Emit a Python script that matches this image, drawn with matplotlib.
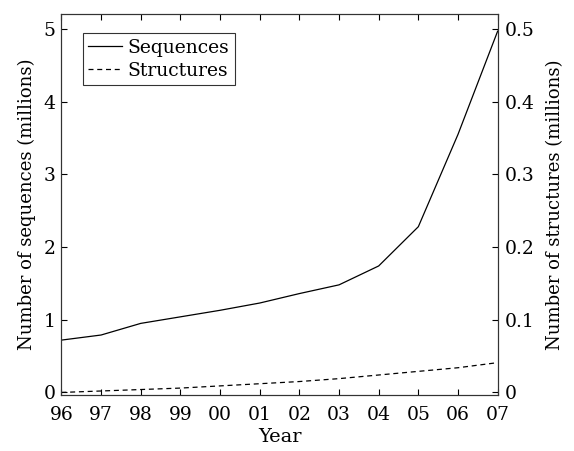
import numpy as np
import matplotlib.pyplot as plt

plt.rcParams['font.family'] = ['DejaVu Serif']

years = [96, 97, 98, 99, 100, 101, 102, 103, 104, 105, 106, 107]
year_labels = ['96', '97', '98', '99', '00', '01', '02', '03', '04', '05', '06', '07']
sequences = [0.72, 0.79, 0.95, 1.04, 1.13, 1.23, 1.36, 1.48, 1.74, 2.28, 3.55, 4.97]
structures = [0.000, 0.002, 0.004, 0.006, 0.009, 0.012, 0.015, 0.019, 0.024, 0.029, 0.034, 0.041]

fig, ax = plt.subplots(figsize=(5.74, 4.51), dpi=100)
fig.subplots_adjust(left=0.107, right=0.867, top=0.968, bottom=0.125)

l1, = ax.plot(years, sequences, color='black', lw=0.9)
ax2 = ax.twinx()
l2, = ax2.plot(years, structures, color='black', lw=0.9, linestyle=(0, (4, 3)))

ax.set_xlim(96, 107)
ax.set_ylim(-0.03, 5.2)
ax2.set_ylim(-0.003, 0.52)
ax.set_xticks(years)
ax.set_xticklabels(year_labels)
ax.set_yticks([0, 1, 2, 3, 4, 5])
ax2.set_yticks([0, 0.1, 0.2, 0.3, 0.4, 0.5])
ax2.set_yticklabels(['0', '0.1', '0.2', '0.3', '0.4', '0.5'])

ax.tick_params(direction='in', top=True, labelsize=13.5, length=4, width=0.8, pad=4)
ax.tick_params(axis='x', pad=8)
ax2.tick_params(direction='in', labelsize=13.5, length=4, width=0.8, pad=5)
for a in (ax, ax2):
    for s in a.spines.values():
        s.set_linewidth(0.8)
        s.set_color('#333333')

ax.set_xlabel('Year', fontsize=14, labelpad=3)
ax.set_ylabel('Number of sequences (millions)', fontsize=13, labelpad=6)
ax2.set_ylabel('Number of structures (millions)', fontsize=13, labelpad=8)

leg = ax.legend([l1, l2], ['Sequences', 'Structures'], loc='upper left',
                bbox_to_anchor=(0.04, 0.96), fontsize=13.5, frameon=True, fancybox=False,
                handlelength=1.8, handletextpad=0.3, borderpad=0.3, labelspacing=0.25,
                borderaxespad=0.2)
leg.get_frame().set_edgecolor('black')
leg.get_frame().set_linewidth(0.8)

fig.savefig('out.png', dpi=100)
